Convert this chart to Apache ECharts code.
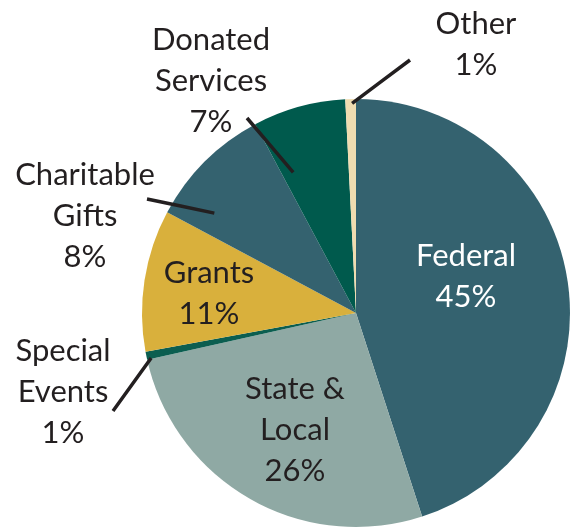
<!DOCTYPE html>
<html><head><meta charset="utf-8">
<script src="https://cdn.jsdelivr.net/npm/echarts@6/dist/echarts.min.js"></script>
<style>html,body{margin:0;padding:0;background:#fff}#c{width:570px;height:528px}</style>
</head><body><div id="c"></div>
<script>
// ---- data ----
const categories = ['Federal', 'State &\nLocal', 'Special\nEvents', 'Grants', 'Charitable\nGifts', 'Donated\nServices', 'Other'];
const sliceValues = [45, 26.5, 0.6, 10.7, 9.4, 7.0, 0.8];
const percentLabels = ['45%', '26%', '1%', '11%', '8%', '7%', '1%'];

// ---- styles / layout ----
const colors = ['#34626f', '#8fa9a4', '#0b5e50', '#d9b03c', '#34626f', '#005a4d', '#efdcb0'];
const CX = 356, CY = 313, R = 214;
const labelCfg = [
  { x: 466, y: 276, color: '#ffffff' },
  { x: 295, y: 430 },
  { x: 63, y: 392, line: { t: 0.1, r: 0.98, end: [113, 411] } },
  { x: 209, y: 293 },
  { x: 85, y: 216, line: { t: 0.21, r: 0.81, end: [147, 199] } },
  { x: 211, y: 81, line: { t: 0.16, r: 0.72, end: [247, 118] } },
  { x: 476, y: 44, line: { t: 0.63, r: 0.98, end: [410, 60] } }
];

const total = sliceValues.reduce((a, b) => a + b, 0);
const starts = [];
let acc = 0;
sliceValues.forEach(v => { starts.push(acc); acc += v; });

function polar(i, t, rf) {
  const a = (starts[i] + t * sliceValues[i]) / total * 2 * Math.PI;
  return [CX + R * rf * Math.sin(a), CY - R * rf * Math.cos(a)];
}

const base = {
  type: 'pie',
  center: [CX, CY],
  radius: R,
  startAngle: 90,
  clockwise: true,
  avoidLabelOverlap: false,
  silent: true,
  itemStyle: { borderWidth: 0 }
};

const chart = echarts.init(document.getElementById('c'), null, { renderer: 'canvas' });
chart.setOption({
  animation: false,
  series: [
    Object.assign({}, base, {
      z: 2,
      label: { show: false },
      labelLine: { show: false },
      data: categories.map((name, i) => ({ name: name, value: sliceValues[i], itemStyle: { color: colors[i] } }))
    }),
    Object.assign({}, base, {
      z: 5,
      label: {
        show: true,
        position: 'outside',
        fontFamily: 'Lato',
        fontSize: 31,
        lineHeight: 41,
        color: '#231f20',
        align: 'center',
        formatter: p => categories[p.dataIndex] + '\n' + percentLabels[p.dataIndex]
      },
      labelLine: { show: true, lineStyle: { color: '#231f20', width: 3.5 } },
      labelLayout: function (params) {
        const i = params.dataIndex;
        const cfg = labelCfg[i];
        const res = { x: cfg.x, y: cfg.y, align: 'center', verticalAlign: 'middle' };
        if (cfg.line) {
          const s = polar(i, cfg.line.t, cfg.line.r);
          const e = cfg.line.end;
          res.labelLinePoints = [s, [(s[0] + e[0]) / 2, (s[1] + e[1]) / 2], e];
        }
        return res;
      },
      data: categories.map((name, i) => ({
        name: name,
        value: sliceValues[i],
        itemStyle: { color: 'rgba(0,0,0,0)' },
        label: labelCfg[i].color ? { color: labelCfg[i].color } : {},
        labelLine: { show: !!labelCfg[i].line }
      }))
    })
  ]
});
</script>
</body></html>
